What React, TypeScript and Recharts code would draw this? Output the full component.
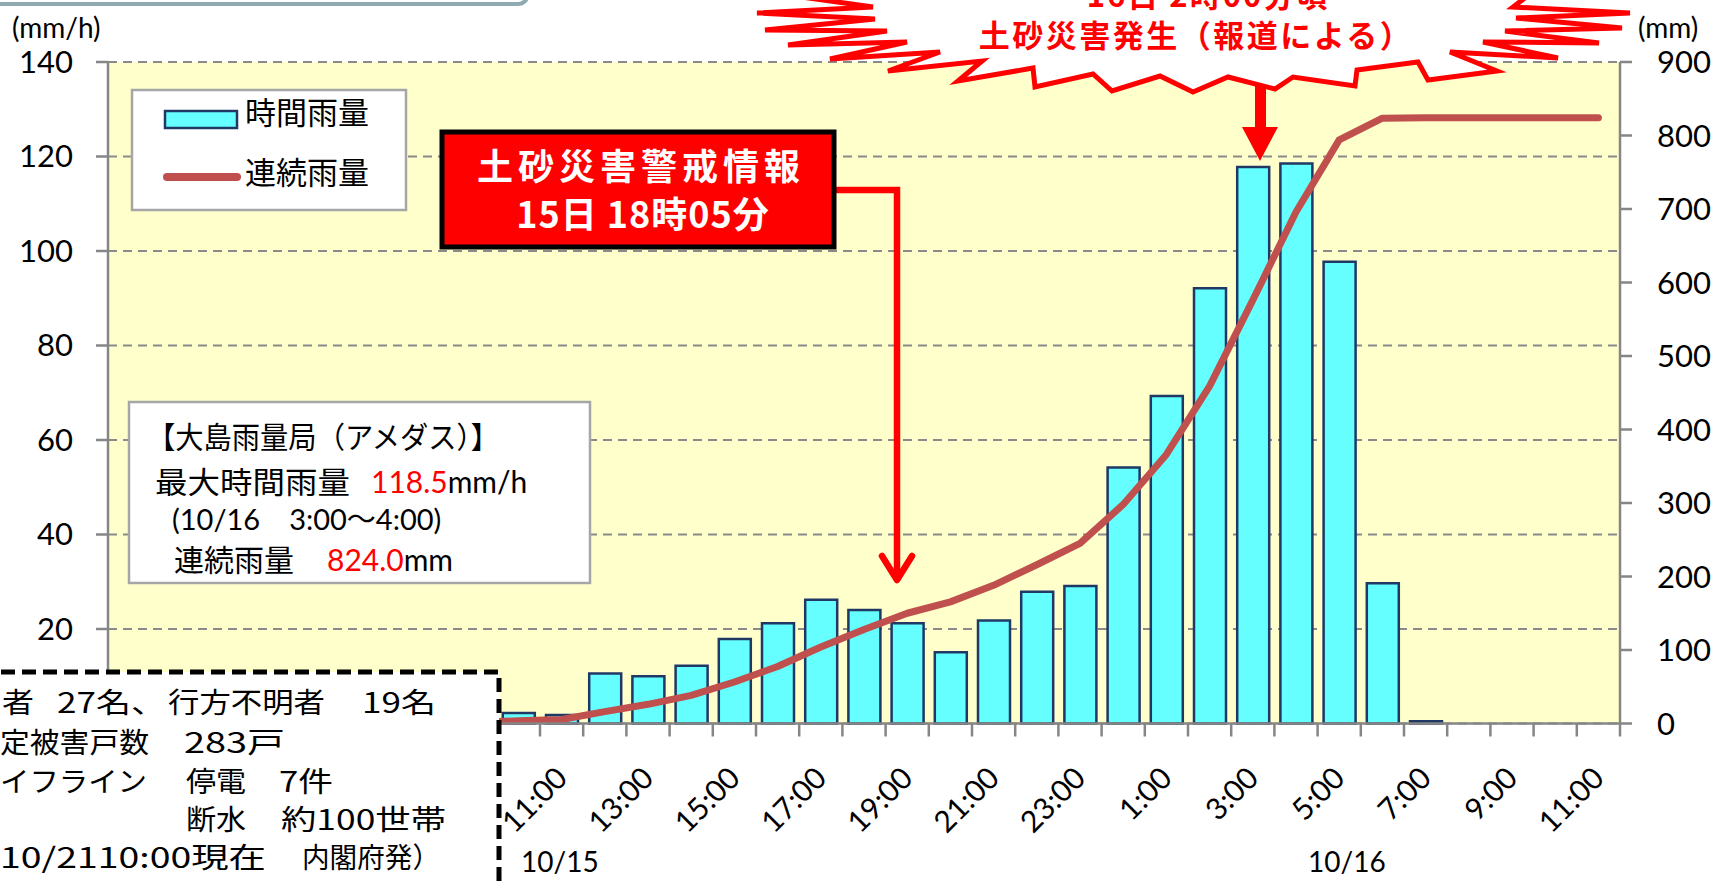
import React from "react";
import { ComposedChart, Bar, Line, XAxis, YAxis, CartesianGrid } from "recharts";

// 10/15 1:00 -> 10/16 11:00, hourly
const hours = [
  "1:00", "2:00", "3:00", "4:00", "5:00", "6:00", "7:00", "8:00", "9:00", "10:00",
  "11:00", "12:00", "13:00", "14:00", "15:00", "16:00", "17:00", "18:00", "19:00", "20:00",
  "21:00", "22:00", "23:00", "0:00", "1:00", "2:00", "3:00", "4:00", "5:00", "6:00",
  "7:00", "8:00", "9:00", "10:00", "11:00",
];

// 時間雨量 (mm/h)
const hourlyRain = [
  0, 0, 0, 0, 0, 0, 0, 0.5, 1.0, 2.2,
  1.8, 10.6, 10.0, 12.2, 17.9, 21.2, 26.2, 24.0, 21.2, 15.1,
  21.8, 27.9, 29.1, 54.2, 69.3, 92.1, 117.8, 118.5, 97.7, 29.7,
  0.5, null, null, null, null,
];

// 連続雨量 (mm)
const totalRain = [
  0, 0, 0, 0, 0, 0, 0, 0.5, 1.5, 3.7,
  5.5, 16.1, 26.1, 38.3, 56.5, 77.5, 104, 128, 150, 165.5,
  188, 216, 245, 298, 366, 459, 576, 696, 794, 823.5,
  824, 824, 824, 824, 824,
];

const leftTicks = [0, 20, 40, 60, 80, 100, 120, 140];
const rightTicks = [0, 100, 200, 300, 400, 500, 600, 700, 800, 900];

const data = hours.map((h, i) => ({ hour: h, hourly: hourlyRain[i], total: totalRain[i] }));

const W = 1716;
const H = 881;
const PLOT_L = 108;
const PLOT_R = 1620;
const BAND = (PLOT_R - PLOT_L) / hours.length;
const NOTE_RIGHT = 499; // the damage note covers the chart left of this, below y=672
const NOTE_TOP = 672;
const AXIS = "#868686";
const LATIN = "Lato, 'Noto Sans CJK JP', sans-serif";
const CJK = "'Noto Sans CJK JP', sans-serif";

function HourTick(props: any) {
  const { x, y, payload, index } = props;
  const ly = y + 49;
  const covered = x < NOTE_RIGHT;
  return (
    <g>
      <line x1={x - BAND / 2} y1={y} x2={x - BAND / 2} y2={y + 13} stroke={AXIS} strokeWidth={2.5} />
      {index === hours.length - 1 && (
        <line x1={x + BAND / 2} y1={y} x2={x + BAND / 2} y2={y + 13} stroke={AXIS} strokeWidth={2.5} />
      )}
      {index % 2 === 0 && !covered && (
        <text
          x={x}
          y={ly}
          dy="0.35em"
          textAnchor="end"
          transform={`rotate(-45 ${x} ${ly})`}
          fontSize={30}
          fontFamily={LATIN}
          fill="#000"
        >
          {payload.value}
        </text>
      )}
    </g>
  );
}

function LeftTick(props: any) {
  const { x, y, payload } = props;
  if (y > NOTE_TOP) return null; // hidden under the note
  return (
    <text x={x} y={y} dy="0.35em" textAnchor="end" fontSize={31} fontFamily={LATIN} fill="#000">
      {payload.value}
    </text>
  );
}

const burst = [
  [780, -6], [873, 7], [757, 13], [875, 19], [765, 30], [887, 31], [788, 45], [907, 42],
  [830, 59], [940, 52], [888, 71], [982, 61], [958, 81], [1033, 68], [1035, 87], [1093, 74],
  [1112, 91], [1160, 76], [1193, 92], [1228, 77], [1275, 89], [1293, 77], [1355, 86], [1357, 70],
  [1418, 62], [1428, 80], [1497, 71], [1450, 52], [1558, 58], [1483, 42], [1599, 43], [1505, 31],
  [1622, 28], [1516, 18], [1630, 13], [1513, 7], [1530, -6],
].map((p) => p.join(",")).join(" ");

// one piece of the damage note: text, left x, right x, centre y
function Note({ t, x0, x1, y }: { t: string; x0: number; x1: number; y: number }) {
  return (
    <text x={x0} y={y} dy="0.35em" textLength={x1 - x0} lengthAdjust="spacingAndGlyphs">
      {t}
    </text>
  );
}

function Overlay() {
  return (
    <svg width={W} height={H} style={{ position: "absolute", left: 0, top: 0 }}>
      {/* cut-off frame at top left */}
      <rect x={-10} y={-40} width={538} height={44} rx={10} fill="#fff" stroke="#8FAAB1" strokeWidth={4} />

      {/* axis units */}
      <text x={12} y={28} dy="0.35em" fontSize={28} fontFamily={LATIN} fill="#000">(mm/h)</text>
      <text x={1638} y={28} dy="0.35em" fontSize={28} fontFamily={LATIN} fill="#000">(mm)</text>

      {/* legend */}
      <rect x={132} y={90} width={274} height={120} fill="#fff" stroke="#A6A6A6" strokeWidth={2.5} />
      <rect x={165} y={111} width={72} height={17} fill="#66FFFF" stroke="#1F3864" strokeWidth={2.5} />
      <line x1={167} y1={177} x2={237} y2={177} stroke="#C0504D" strokeWidth={8} strokeLinecap="round" />
      <text x={245} y={113} dy="0.35em" fontSize={31} fontFamily={CJK} fill="#000">時間雨量</text>
      <text x={245} y={173} dy="0.35em" fontSize={31} fontFamily={CJK} fill="#000">連続雨量</text>

      {/* station box */}
      <rect x={129} y={402} width={461} height={181} fill="#fff" stroke="#A6A6A6" strokeWidth={2.5} />
      <g fontFamily={LATIN} fontSize={30} fill="#000">
        <text x={147} y={437} dy="0.35em" textLength={352} lengthAdjust="spacingAndGlyphs">【大島雨量局（アメダス）】</text>
        <text x={155} y={482} dy="0.35em">
          <tspan textLength={195} lengthAdjust="spacingAndGlyphs">最大時間雨量</tspan>
          <tspan x={371} fill="#FF0000">118.5</tspan>mm/h
        </text>
        <text x={172} y={520} dy="0.35em" fontSize={29}>(10/16　3:00～4:00)</text>
        <text x={174} y={560} dy="0.35em">
          連続雨量<tspan x={327} fill="#FF0000">824.0</tspan>mm
        </text>
      </g>

      {/* warning box + arrow */}
      <polyline points="834,190 897,190 897,578" fill="none" stroke="#FF0000" strokeWidth={6.5} />
      <polyline points="882,556 897,580 912,556" fill="none" stroke="#FF0000" strokeWidth={6.5} strokeLinecap="round" strokeLinejoin="round" />
      <rect x={442} y={132} width={392} height={115} fill="#FF0000" stroke="#000" strokeWidth={5} />
      <g fontFamily={CJK} fontWeight={700} fill="#fff" textAnchor="middle">
        <text x={641} y={167} dy="0.35em" fontSize={36} letterSpacing={5}>土砂災害警戒情報</text>
        <text x={643} y={215} dy="0.35em" fontSize={36} letterSpacing={1}>15日 18時05分</text>
      </g>

      {/* burst + arrow */}
      <rect x={1255} y={84} width={11} height={46} fill="#FF0000" />
      <polygon points="1242,127 1278,127 1260,161" fill="#FF0000" />
      <polygon points={burst} fill="#fff" stroke="#FF0000" strokeWidth={5} strokeLinejoin="miter" />
      <g fontFamily={CJK} fontWeight={700} fill="#FF0000" textAnchor="middle">
        <text x={1208} y={7} fontSize={31} letterSpacing={2}>16日 2時00分頃</text>
        <text x={1196} y={36} dy="0.35em" fontSize={31} letterSpacing={2.5}>土砂災害発生（報道による）</text>
      </g>

      {/* date labels */}
      <text x={521} y={862} dy="0.35em" fontSize={28} fontFamily={LATIN} fill="#000">10/15</text>
      <text x={1308} y={862} dy="0.35em" fontSize={28} fontFamily={LATIN} fill="#000">10/16</text>

      {/* damage note, cut off at the left */}
      <rect x={-20} y={NOTE_TOP} width={NOTE_RIGHT + 20} height={240} fill="#fff" stroke="#000" strokeWidth={5} strokeDasharray="14 7" />
      <g fontFamily={CJK} fontSize={28} fill="#000">
        <Note t="者" x0={2} x1={34} y={703} />
        <Note t="27名、" x0={57} x1={166} y={703} />
        <Note t="行方不明者" x0={168} x1={325} y={703} />
        <Note t="19名" x0={362} x1={436} y={703} />
        <Note t="定被害戸数" x0={0} x1={149} y={743} />
        <Note t="283戸" x0={184} x1={285} y={743} />
        <Note t="イフライン" x0={0} x1={147} y={782} />
        <Note t="停電" x0={186} x1={246} y={782} />
        <Note t="7件" x0={279} x1={333} y={782} />
        <Note t="断水" x0={186} x1={246} y={820} />
        <Note t="約100世帯" x0={281} x1={446} y={820} />
        <Note t="10/2110:00現在" x0={0} x1={266} y={858} />
        <Note t="内閣府発）" x0={302} x1={440} y={858} />
      </g>
    </svg>
  );
}

export default function App() {
  return (
    <div style={{ position: "absolute", left: 0, top: 0, width: W, height: H, overflow: "hidden", background: "#fff" }}>
      <ComposedChart width={W} height={H} data={data} margin={{ top: 62, right: 0, bottom: 57.5, left: 0 }}>
        <CartesianGrid
          yAxisId="left"
          vertical={false}
          stroke="#8A8A8A"
          strokeWidth={2}
          strokeDasharray="9 6"
          fill="#FFFFCC"
          fillOpacity={1}
        />
        <XAxis
          dataKey="hour"
          height={100}
          interval={0}
          tickSize={0}
          tickMargin={0}
          tickLine={false}
          axisLine={{ stroke: AXIS, strokeWidth: 2.5 }}
          tick={<HourTick />}
        />
        <YAxis
          yAxisId="left"
          width={108}
          domain={[0, 140]}
          ticks={leftTicks}
          tickSize={12}
          tickMargin={23}
          axisLine={{ stroke: AXIS, strokeWidth: 2.5 }}
          tickLine={{ stroke: AXIS, strokeWidth: 2.5 }}
          tick={<LeftTick />}
        />
        <YAxis
          yAxisId="right"
          orientation="right"
          width={96}
          domain={[0, 900]}
          ticks={rightTicks}
          tickSize={12}
          tickMargin={25}
          axisLine={{ stroke: AXIS, strokeWidth: 2.5 }}
          tickLine={{ stroke: AXIS, strokeWidth: 2.5 }}
          tick={{ fontSize: 31, fill: "#000", fontFamily: LATIN }}
        />
        <Bar
          yAxisId="left"
          dataKey="hourly"
          barSize={32}
          fill="#66FFFF"
          stroke="#1F3864"
          strokeWidth={2.5}
          isAnimationActive={false}
        />
        <Line
          yAxisId="right"
          dataKey="total"
          type="linear"
          stroke="#C0504D"
          strokeWidth={7}
          strokeLinecap="round"
          strokeLinejoin="round"
          dot={false}
          activeDot={false}
          isAnimationActive={false}
        />
      </ComposedChart>
      <Overlay />
    </div>
  );
}
